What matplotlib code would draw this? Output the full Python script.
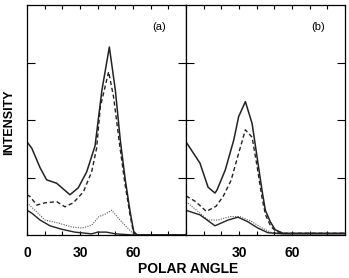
import numpy as np
import matplotlib.pyplot as plt

plt.rcParams['font.family'] = ['Liberation Sans', 'DejaVu Sans']

# panel (a)
a_solid_x = [0, 2.7, 7.4, 11.1, 16.8, 24.3, 29, 33.8, 38.5, 42.4, 46.6, 50, 52.8, 55.6, 58.5, 60.4, 62.3, 90]
a_solid_y = [1.62, 1.51, 1.17, 0.96, 0.90, 0.70, 0.82, 1.10, 1.55, 2.52, 3.27, 2.52, 1.65, 0.96, 0.38, 0.06, 0.0, 0.0]
a_dash_x = [0, 1.7, 5.5, 10.2, 16.8, 21.5, 26.2, 31.9, 36.6, 39.4, 41.5, 46.2, 49, 52.5, 55.4, 58.3, 60.2, 62, 90]
a_dash_y = [0.70, 0.67, 0.52, 0.56, 0.58, 0.49, 0.56, 0.75, 1.10, 1.51, 2.23, 2.84, 2.4, 1.55, 0.9, 0.35, 0.05, 0.0, 0.0]
a_dot_x = [0, 4.5, 10.2, 17.5, 25.3, 31, 36.6, 40.7, 44, 48, 52, 57, 59.5, 62, 90]
a_dot_y = [0.56, 0.43, 0.26, 0.21, 0.14, 0.12, 0.17, 0.32, 0.36, 0.43, 0.28, 0.12, 0.04, 0.0, 0.0]
a_thin_x = [0, 2.7, 7.4, 13, 19.6, 27, 36.6, 40, 45, 50, 60, 90]
a_thin_y = [0.43, 0.38, 0.26, 0.16, 0.10, 0.05, 0.02, 0.05, 0.05, 0.02, 0.0, 0.0]

# panel (b)
b_solid_x = [0, 7.9, 12.5, 16.4, 17.5, 22.2, 27, 29.8, 33.6, 37.4, 40.2, 43, 44.9, 47.7, 50.5, 55, 90]
b_solid_y = [1.62, 1.25, 0.83, 0.73, 0.78, 1.13, 1.65, 2.06, 2.32, 1.94, 1.36, 0.78, 0.43, 0.23, 0.09, 0.03, 0.03]
b_dash_x = [0, 5.5, 11.5, 17, 21, 25.5, 29.6, 33.6, 37.4, 40.2, 43, 45, 48, 51, 55, 90]
b_dash_y = [0.68, 0.58, 0.41, 0.50, 0.67, 0.95, 1.40, 1.83, 1.70, 1.20, 0.65, 0.35, 0.15, 0.06, 0.03, 0.03]
b_dot_x = [0, 6.8, 12.5, 18, 24.9, 30.5, 37.4, 43, 48.6, 55, 90]
b_dot_y = [0.58, 0.41, 0.26, 0.26, 0.32, 0.32, 0.23, 0.12, 0.04, 0.02, 0.02]
b_thin_x = [0, 7.9, 16.4, 23.8, 29.4, 35, 40.7, 46.3, 55, 90]
b_thin_y = [0.43, 0.35, 0.16, 0.26, 0.31, 0.23, 0.12, 0.04, 0.02, 0.02]

fig = plt.figure(figsize=(3.49, 2.78), dpi=100)
ax1 = fig.add_axes([0.0774, 0.1547, 0.4556, 0.827])
ax2 = fig.add_axes([0.533, 0.1547, 0.4556, 0.827])

panels = [
    (ax1, a_solid_x, a_solid_y, a_dash_x, a_dash_y, a_dot_x, a_dot_y, a_thin_x, a_thin_y, '(a)', [0, 30, 60]),
    (ax2, b_solid_x, b_solid_y, b_dash_x, b_dash_y, b_dot_x, b_dot_y, b_thin_x, b_thin_y, '(b)', [30, 60]),
]

for ax, sx, sy, dx, dy, ox, oy, tx, ty, tag, labs in panels:
    ax.plot(sx, sy, color='#222222', lw=1.1)
    ax.plot(dx, dy, color='#222222', lw=1.0, linestyle=(0, (3, 2)))
    ax.plot(ox, oy, color='#555555', lw=0.8, linestyle=(0, (1, 1.2)))
    ax.plot(tx, ty, color='#222222', lw=1.0)
    ax.set_xlim(0, 90)
    ax.set_ylim(0, 4)
    ax.set_xticks(range(0, 91, 10))
    ax.set_xticklabels([str(t) if t in labs else '' for t in range(0, 91, 10)])
    ax.set_yticks([1, 2, 3])
    ax.set_yticklabels([])
    ax.tick_params(axis='x', direction='in', length=3, width=0.8, top=True, pad=8,
                   labelsize=10)
    ax.tick_params(axis='y', direction='in', length=6, width=0.8, right=True)
    for lab in ax.get_xticklabels():
        lab.set_fontweight('bold')
    for s in ax.spines.values():
        s.set_linewidth(0.9)
    ax.text(0.83, 0.905, tag, transform=ax.transAxes, ha='center', va='center', fontsize=8)

fig.text(0.54, 0.033, 'POLAR ANGLE', ha='center', va='center', fontsize=10, fontweight='bold')
fig.text(0.025, 0.56, 'INTENSITY', ha='center', va='center', rotation=90, fontsize=9, fontweight='bold')

fig.savefig('out.png', dpi=100)
